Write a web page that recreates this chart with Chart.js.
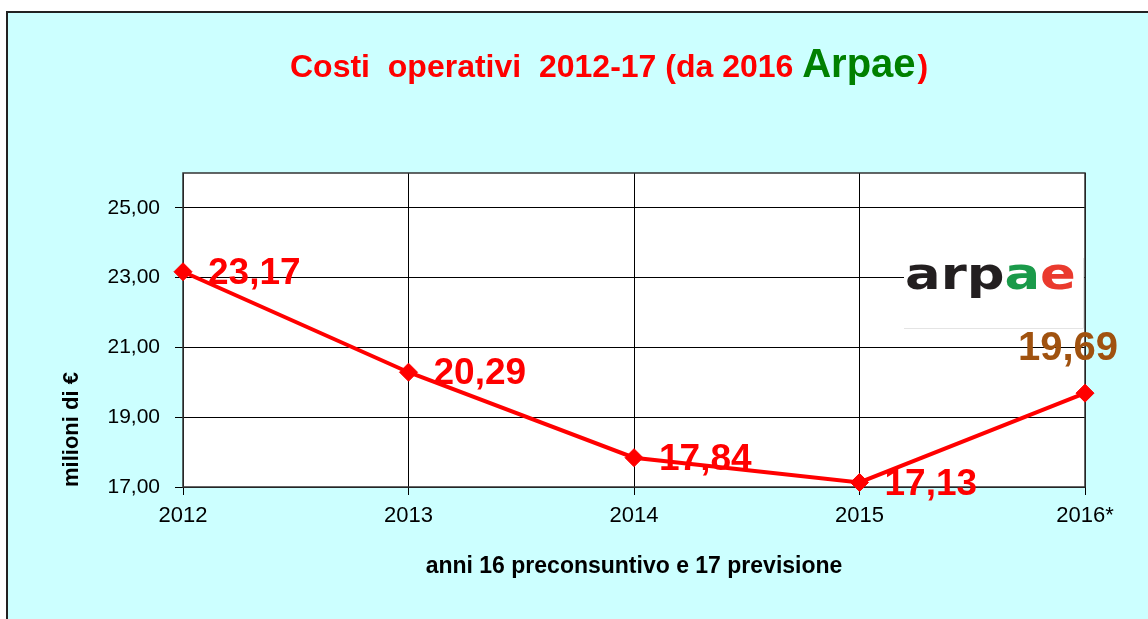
<!DOCTYPE html>
<html>
<head>
<meta charset="utf-8">
<script src="https://cdn.jsdelivr.net/npm/chart.js@4.4.1/dist/chart.umd.min.js"></script>
<style>
  html, body { margin: 0; padding: 0; background: #ffffff; }
  #wrap { width: 1148px; height: 619px; position: relative; }
</style>
</head>
<body>
<div id="wrap"><canvas id="myChart"></canvas></div>
<script>
// data
const years = ['2012', '2013', '2014', '2015', '2016*'];
const costs = [23.17, 20.29, 17.84, 17.13, 19.69];
const yTicks = [17, 19, 21, 23, 25];

const FONT = '"Liberation Sans", Arial, sans-serif';

function fmt(v) {
    return v.toFixed(2).replace('.', ',');
}

// background, frame, plot area, title and logo
const decorPlugin = {
    id: 'decor',
    beforeDraw(chart) {
        const c = chart.ctx;
        const a = chart.chartArea;
        c.save();
        c.fillStyle = '#ffffff';
        c.fillRect(0, 0, chart.width, chart.height);
        c.fillStyle = '#ccffff';
        c.fillRect(7, 12, chart.width - 7, chart.height - 12);
        c.fillStyle = '#222';
        c.fillRect(6, 11, 2, chart.height - 11);
        c.fillRect(6, 11, chart.width - 6, 2);
        c.fillStyle = '#ffffff';
        c.fillRect(a.left, a.top, a.right - a.left, a.bottom - a.top);

        // title
        c.textBaseline = 'alphabetic';
        c.textAlign = 'left';
        let x = 290;
        const base = 77;
        c.font = 'bold 32px ' + FONT;
        c.fillStyle = '#ff0000';
        const part1 = 'Costi  operativi  2012-17 (da 2016 ';
        c.fillText(part1, x, base);
        x += c.measureText(part1).width;
        c.font = 'bold 40px ' + FONT;
        c.fillStyle = '#008000';
        c.fillText('Arpae', x, base);
        x += c.measureText('Arpae').width + 2;
        c.font = 'bold 32px ' + FONT;
        c.fillStyle = '#ff0000';
        c.fillText(')', x, base);
        c.restore();
    },
    beforeDatasetsDraw(chart) {
        const c = chart.ctx;
        const a = chart.chartArea;
        c.save();
        // plot border
        c.strokeStyle = '#333';
        c.lineWidth = 1.5;
        c.strokeRect(a.left, a.top, a.right - a.left, a.bottom - a.top);

        // logo box
        c.fillStyle = '#ffffff';
        c.fillRect(904, 258, 179, 70);
        c.strokeStyle = '#e4e4e4';
        c.lineWidth = 1;
        c.beginPath();
        c.moveTo(1083.5, 258);
        c.lineTo(1083.5, 328.5);
        c.lineTo(904, 328.5);
        c.stroke();

        c.translate(905, 289);
        c.scale(1.2, 1);
        c.font = 'bold 44px "DejaVu Sans", sans-serif';
        c.textBaseline = 'alphabetic';
        c.textAlign = 'left';
        const parts = [['arp', '#231f20'], ['a', '#1a9a4a'], ['e', '#ea3a2e']];
        let lx = 0;
        parts.forEach(([t, col]) => {
            c.fillStyle = col;
            c.fillText(t, lx, 0);
            lx += c.measureText(t).width;
        });
        c.restore();
    },
    afterDatasetsDraw(chart) {
        const c = chart.ctx;
        const meta = chart.getDatasetMeta(0);
        c.save();
        c.textBaseline = 'middle';
        meta.data.forEach((pt, i) => {
            const text = fmt(costs[i]);
            if (i === costs.length - 1) {
                c.font = 'bold 40px ' + FONT;
                c.fillStyle = '#a0520f';
                c.textAlign = 'center';
                c.fillText(text, pt.x - 17, pt.y - 44);
            } else {
                c.font = 'bold 37px ' + FONT;
                c.fillStyle = '#ff0000';
                c.textAlign = 'left';
                c.fillText(text, pt.x + 25, pt.y + 2);
            }
        });
        c.restore();
    }
};

const ctx = document.getElementById('myChart');
new Chart(ctx, {
    type: 'line',
    data: {
        labels: years,
        datasets: [{
            label: 'Costi operativi',
            data: costs,
            borderColor: '#ff0000',
            backgroundColor: '#ff0000',
            borderWidth: 4,
            pointStyle: 'rectRot',
            pointRadius: 9,
            pointBorderWidth: 1,
            tension: 0,
            clip: false
        }]
    },
    options: {
        responsive: true,
        maintainAspectRatio: false,
        animation: false,
        layout: {
            padding: { left: 0, top: 173, right: 63, bottom: 0 }
        },
        plugins: {
            legend: { display: false },
            title: { display: false },
            tooltip: { enabled: false }
        },
        scales: {
            x: {
                offset: false,
                grid: {
                    color: '#000',
                    lineWidth: 1,
                    tickLength: 8
                },
                border: { display: false },
                ticks: {
                    color: '#000',
                    padding: 8,
                    font: { family: FONT, size: 22 },
                    maxRotation: 0
                },
                title: {
                    display: true,
                    text: 'anni 16 preconsuntivo e 17 previsione',
                    color: '#000',
                    font: { family: FONT, size: 23, weight: 'bold' },
                    padding: { top: 0, bottom: 39 }
                },
                afterFit(scale) { scale.height = 132; }
            },
            y: {
                min: 17,
                max: 26,
                afterBuildTicks(scale) {
                    scale.ticks = yTicks.map(v => ({ value: v }));
                },
                grid: {
                    color: '#000',
                    lineWidth: 1,
                    tickLength: 8
                },
                border: { display: false },
                ticks: {
                    color: '#000',
                    padding: 15,
                    font: { family: FONT, size: 21 },
                    callback: v => fmt(v)
                },
                title: {
                    display: true,
                    text: 'milioni di €',
                    align: 'start',
                    color: '#000',
                    font: { family: FONT, size: 22, weight: 'bold' },
                    padding: { top: 59, bottom: 0 }
                },
                afterFit(scale) { scale.width = 183; }
            }
        }
    },
    plugins: [decorPlugin]
});
</script>
</body>
</html>
